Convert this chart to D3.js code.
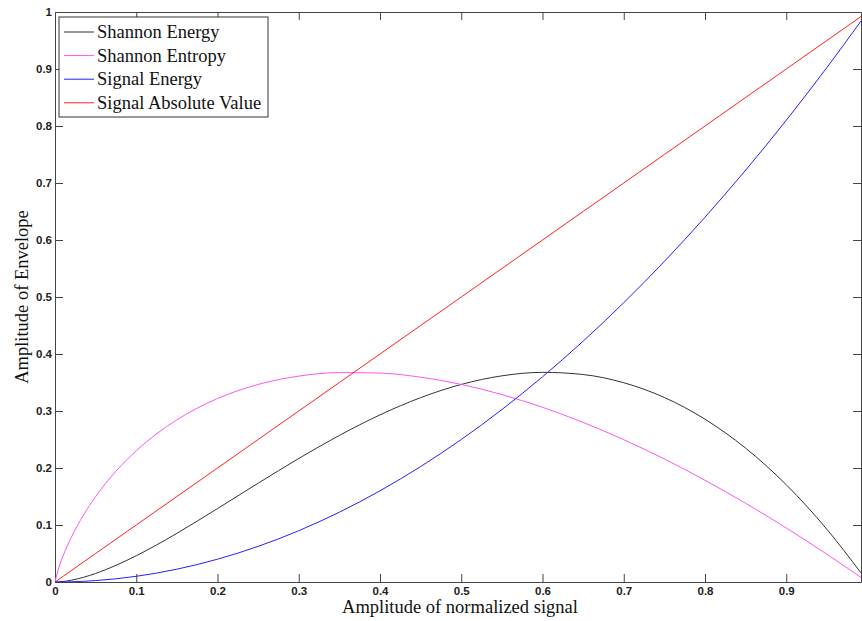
<!DOCTYPE html>
<html>
<head>
<meta charset="utf-8">
<style>
    body { margin: 0; background: #fff; }
    svg { display: block; }
    .tick text { font-family: "Liberation Sans", Arial, sans-serif; font-size: 11.5px; font-weight: bold; fill: #222; }
    .axis path, .axis line { stroke: #444; }
    .lbl { font-family: "Liberation Serif", "Times New Roman", serif; font-size: 18.5px; fill: #111; }
</style>
</head>
<body>
<svg width="862" height="621"></svg>
<script src="https://d3js.org/d3.v7.min.js"></script>
<script>
    // amplitude of normalized signal (x)
    let xs = [0, 0.005, 0.01, 0.02, 0.035, 0.05, 0.075, 0.1, 0.125, 0.15, 0.175, 0.2, 0.25, 0.3, 0.35,
        0.4, 0.45, 0.5, 0.55, 0.6, 0.65, 0.7, 0.75, 0.8, 0.85, 0.9, 0.95, 0.992]

    // envelope values
    let shannonEnergy = [0, 0.0003, 0.0009, 0.0031, 0.0082, 0.015, 0.0292, 0.0461, 0.065, 0.0854, 0.1068, 0.1288,
        0.1733, 0.2167, 0.2572, 0.2932, 0.3234, 0.3466, 0.3617, 0.3678, 0.364, 0.3496, 0.3237, 0.2856, 0.2348,
        0.1706, 0.0925, 0.0159]
    let shannonEntropy = [0, 0.0265, 0.0461, 0.0782, 0.1173, 0.1498, 0.1943, 0.2303, 0.2599, 0.2846, 0.305, 0.3219,
        0.3466, 0.3612, 0.3674, 0.3665, 0.3593, 0.3466, 0.3288, 0.3065, 0.28, 0.2497, 0.2158, 0.1785, 0.1381,
        0.0948, 0.0487, 0.008]
    let signalEnergy = [0, 0.00003, 0.0001, 0.0004, 0.0012, 0.0025, 0.0056, 0.01, 0.0156, 0.0225, 0.0306, 0.04,
        0.0625, 0.09, 0.1225, 0.16, 0.2025, 0.25, 0.3025, 0.36, 0.4225, 0.49, 0.5625, 0.64, 0.7225, 0.81,
        0.9025, 0.9841]
    let signalAbs = [0, 0.005, 0.01, 0.02, 0.035, 0.05, 0.075, 0.1, 0.125, 0.15, 0.175, 0.2, 0.25, 0.3, 0.35,
        0.4, 0.45, 0.5, 0.55, 0.6, 0.65, 0.7, 0.75, 0.8, 0.85, 0.9, 0.95, 0.992]

    let seriesNames = ["Shannon Energy", "Shannon Entropy", "Signal Energy", "Signal Absolute Value"]
    let seriesColors = ["#333333", "#ff55ee", "#2222ff", "#ff2222"]
    let xTicks = [0, 0.1, 0.2, 0.3, 0.4, 0.5, 0.6, 0.7, 0.8, 0.9]
    let yTicks = [0, 0.1, 0.2, 0.3, 0.4, 0.5, 0.6, 0.7, 0.8, 0.9, 1]

    let margin = { top: 12, right: 1, bottom: 39, left: 55 }
    let width = 862, height = 621

    let svg = d3.select("svg")

    let x = d3.scaleLinear().domain([0, 0.992]).range([margin.left, width - margin.right])
    let y = d3.scaleLinear().domain([0, 1]).range([height - margin.bottom, margin.top])

    let fmt = d => d3.format("")(d)

    // bottom + left axes with labels, top + right with ticks only (ticks pointing inward)
    svg.append("g").attr("class", "axis")
        .attr("transform", `translate(0,${y(0)})`)
        .call(d3.axisBottom(x).tickValues(xTicks).tickSize(-8).tickSizeOuter(0).tickPadding(5).tickFormat(fmt))
    svg.append("g").attr("class", "axis")
        .attr("transform", `translate(0,${y(1)})`)
        .call(d3.axisTop(x).tickValues(xTicks).tickSize(-8).tickSizeOuter(0).tickFormat(""))
    svg.append("g").attr("class", "axis")
        .attr("transform", `translate(${x(0)},0)`)
        .call(d3.axisLeft(y).tickValues(yTicks).tickSize(-8).tickSizeOuter(0).tickPadding(3).tickFormat(fmt))
    svg.append("g").attr("class", "axis")
        .attr("transform", `translate(${x(0.992)},0)`)
        .call(d3.axisRight(y).tickValues(yTicks).tickSize(-8).tickSizeOuter(0).tickFormat(""))

    // curves
    let allSeries = [shannonEnergy, shannonEntropy, signalEnergy, signalAbs]
    let line = d3.line()
        .x((d, i) => x(xs[i]))
        .y(d => y(d))
        .curve(d3.curveMonotoneX)

    allSeries.forEach(function (vals, k) {
        svg.append("path")
            .datum(vals)
            .attr("fill", "none")
            .attr("stroke", seriesColors[k])
            .attr("stroke-width", 1)
            .attr("d", line)
    })

    // legend
    let legend = svg.append("g").attr("transform", "translate(59,17)")
    legend.append("rect")
        .attr("width", 209).attr("height", 100)
        .attr("fill", "#fff").attr("stroke", "#333")
    seriesNames.forEach(function (name, i) {
        let cy = 15 + i * 23.6
        legend.append("line")
            .attr("x1", 5).attr("x2", 35).attr("y1", cy).attr("y2", cy)
            .attr("stroke", seriesColors[i])
        legend.append("text")
            .attr("class", "lbl")
            .attr("x", 38).attr("y", cy + 6)
            .text(name)
    })

    // axis titles
    svg.append("text").attr("class", "lbl")
        .attr("x", (x(0) + x(0.992)) / 2 + 2).attr("y", 613)
        .attr("text-anchor", "middle")
        .text("Amplitude of normalized signal")
    svg.append("text").attr("class", "lbl")
        .attr("transform", `translate(28,${(y(0) + y(1)) / 2}) rotate(-90)`)
        .attr("text-anchor", "middle")
        .text("Amplitude of Envelope")
</script>
</body>
</html>
